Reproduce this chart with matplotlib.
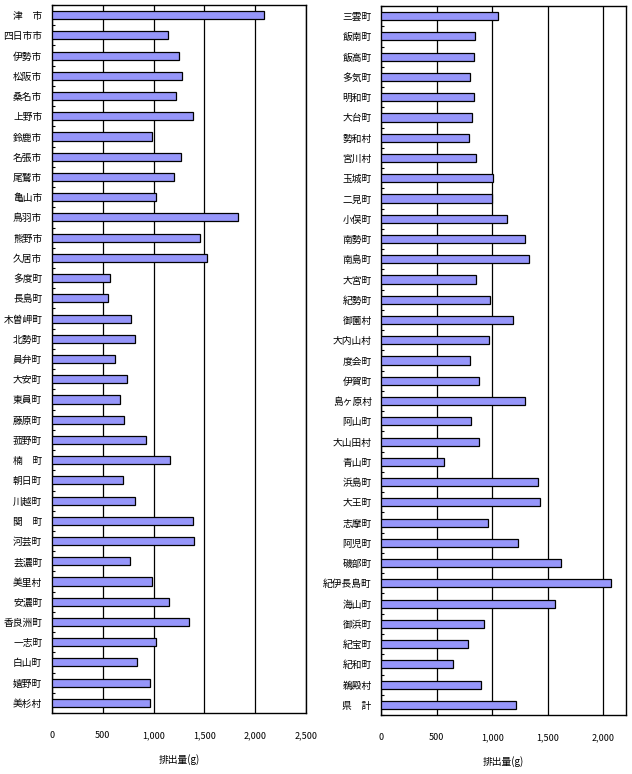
import numpy as np
import matplotlib
matplotlib.use('Agg')
import matplotlib.pyplot as plt
from matplotlib.ticker import FuncFormatter, FixedLocator

plt.rcParams['font.family'] = ['Noto Sans CJK JP', 'DejaVu Sans']

# 左側（市・町）
names_left = ['津　市', '四日市市', '伊勢市', '松阪市', '桑名市', '上野市', '鈴鹿市', '名張市',
              '尾鷲市', '亀山市', '鳥羽市', '熊野市', '久居市', '多度町', '長島町', '木曽岬町',
              '北勢町', '員弁町', '大安町', '東員町', '藤原町', '菰野町', '楠　町', '朝日町',
              '川越町', '関　町', '河芸町', '芸濃町', '美里村', '安濃町', '香良洲町', '一志町',
              '白山町', '嬉野町', '美杉村']
values_left = [2090, 1143, 1252, 1281, 1222, 1390, 986, 1271,
               1202, 1025, 1833, 1459, 1528, 572, 552, 779,
               818, 621, 739, 670, 710, 926, 1163, 700,
               818, 1390, 1399, 769, 986, 1153, 1350, 1025,
               838, 966, 966]

# 右側
names_right = ['三雲町', '飯南町', '飯高町', '多気町', '明和町', '大台町', '勢和村', '宮川村',
               '玉城町', '二見町', '小俣町', '南勢町', '南島町', '大宮町', '紀勢町', '御薗村',
               '大内山村', '度会町', '伊賀町', '島ヶ原村', '阿山町', '大山田村', '青山町', '浜島町',
               '大王町', '志摩町', '阿児町', '磯部町', '紀伊長島町', '海山町', '御浜町', '紀宝町',
               '紀和町', '鵜殿村', '県　計']
values_right = [1054, 847, 838, 796, 838, 820, 787, 856,
                1009, 997, 1135, 1297, 1333, 856, 982, 1189,
                973, 802, 883, 1297, 811, 883, 568, 1414,
                1432, 964, 1234, 1622, 2072, 1568, 928, 784,
                649, 901, 1216]

xticks_left = [0, 500, 1000, 1500, 2000, 2500]
xticks_right = [0, 500, 1000, 1500, 2000]

fig = plt.figure(figsize=(6.32, 7.74), dpi=100)
ax1 = fig.add_axes([0.0823, 0.0788, 0.4019, 0.9147])
ax2 = fig.add_axes([0.6033, 0.0762, 0.3872, 0.9160])


def draw(ax, names, values, xticks, xmax):
    y = np.arange(len(names))
    ax.barh(y, values, height=0.4, color='#9696FA', edgecolor='black', linewidth=0.9, zorder=3)
    ax.set_xlim(0, xmax)
    ax.set_ylim(len(names) - 0.5, -0.5)
    ax.set_yticks(y)
    ax.set_yticklabels(names, fontsize=7)
    ax.yaxis.set_minor_locator(FixedLocator(np.arange(len(names) + 1) - 0.5))
    ax.tick_params(axis='y', which='major', length=0, pad=7)
    ax.tick_params(axis='y', which='minor', length=2.5, width=0.8, direction='in')
    ax.set_xticks(xticks)
    ax.xaxis.set_major_formatter(FuncFormatter(lambda v, p: f'{int(v):,}'))
    ax.tick_params(axis='x', length=0, pad=13, labelsize=6.5)
    ax.grid(axis='x', color='black', linewidth=0.9, zorder=0)
    for s in ax.spines.values():
        s.set_linewidth(1.0)
    ax.set_xlabel('排出量(g)', fontsize=7, labelpad=10)


draw(ax1, names_left, values_left, xticks_left, 2500)
draw(ax2, names_right, values_right, xticks_right, 2205)

plt.savefig('out.png', dpi=100)
